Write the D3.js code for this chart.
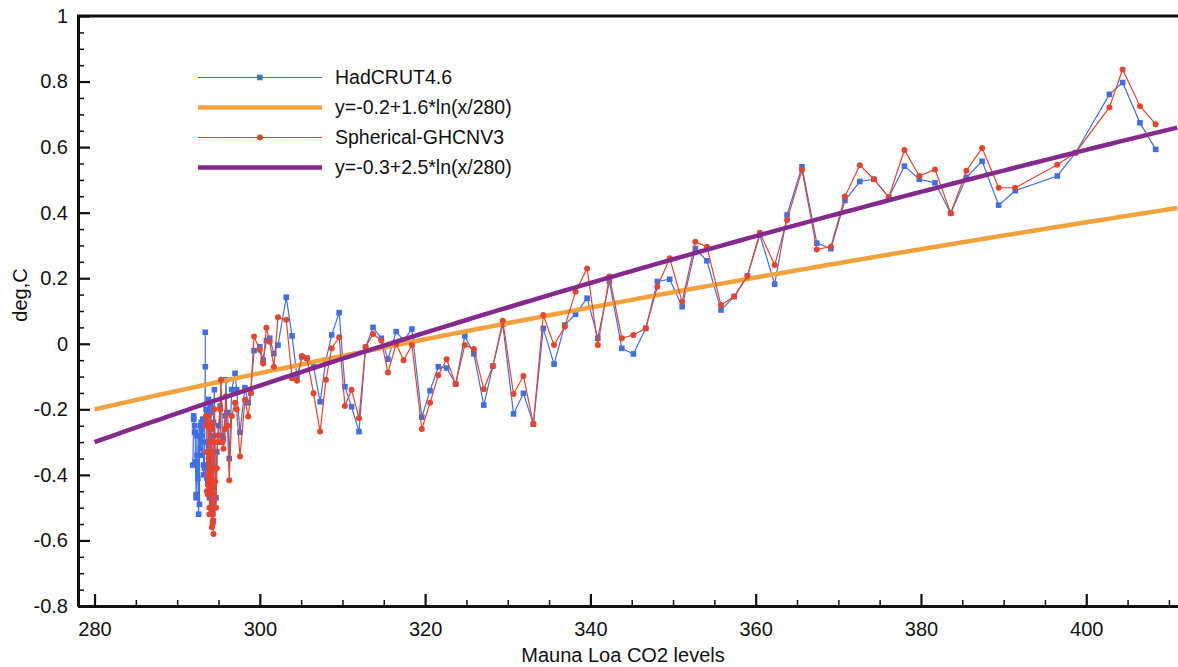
<!DOCTYPE html>
<html>
<head>
<meta charset="utf-8">
<script src="https://cdn.jsdelivr.net/npm/d3@7"></script>
<style>
body { margin: 0; background: #fff; }
svg { display: block; font-family: "Liberation Sans", Arial, sans-serif; }
</style>
</head>
<body>
<svg id="chart" width="1178" height="667"></svg>
<script>
// CO2 (x) for each year 1850..2018
const co2 = [
  291.9, 292.0, 292.0, 292.1, 292.1, 292.2, 292.2, 292.3, 292.3, 292.4,
  292.4, 292.5, 292.6, 292.6, 292.7, 292.7, 292.8, 292.8, 292.9, 292.9,
  293.0, 293.0, 293.1, 293.1, 293.2, 293.2, 293.3, 293.4, 293.4, 293.4,
  293.5, 293.5, 293.6, 293.6, 293.6, 293.7, 293.7, 293.7, 293.8, 293.8,
  293.8, 293.9, 293.9, 293.9, 293.9, 294.0, 294.0, 294.0, 294.0, 294.1,
  294.1, 294.1, 294.1, 294.2, 294.2, 294.2, 294.2, 294.3, 294.3, 294.3,
  294.3, 294.4, 294.4, 294.4, 294.4, 294.5,
  294.6, 294.7, 294.8, 294.9, 295.0, 295.2, 295.3, 295.5, 295.6, 295.8,
  295.9, 296.0, 296.1, 296.3, 296.6, 297.0, 297.2, 297.6, 298.2, 298.6,
  298.9, 299.3, 300.0, 300.4, 300.8, 301.2, 301.7, 302.2,
  303.2, 303.9, 304.5, 305.1, 305.7, 306.5, 307.3, 308.0, 308.7, 309.6,
  310.3, 311.1, 312.0, 312.8, 313.7,
  314.7, 315.5, 316.5, 317.4, 318.4, 319.6, 320.6, 321.6, 322.6, 323.7,
  324.8, 325.9, 327.1, 328.2, 329.4, 330.7, 331.9, 333.1, 334.3, 335.6,
  336.9, 338.2, 339.6, 340.9, 342.3, 343.8, 345.2, 346.7, 348.1, 349.6,
  351.1, 352.7, 354.1, 355.8, 357.4, 359.0, 360.5, 362.3, 363.8, 365.6,
  367.4, 369.1, 370.8, 372.6, 374.3, 376.1, 378.0, 379.8, 381.7, 383.6,
  385.5, 387.4, 389.4, 391.4, 396.5, 398.7, 402.8, 404.4, 406.5, 408.4
];

// HadCRUT4.6, 1850..2018
const hadcrut = [
  -0.37, -0.22, -0.23, -0.27, -0.25, -0.27, -0.36, -0.46, -0.47, -0.28,
  -0.34, -0.41, -0.52, -0.28, -0.49, -0.28, -0.25, -0.32, -0.24, -0.26,
  -0.28, -0.34, -0.23, -0.30, -0.37, -0.40, -0.38, -0.07, 0.035, -0.23,
  -0.23, -0.20, -0.21, -0.30, -0.41, -0.39, -0.37, -0.42, -0.31, -0.17,
  -0.42, -0.33, -0.46, -0.47, -0.41, -0.39, -0.19, -0.21, -0.41, -0.29,
  -0.20, -0.26, -0.40, -0.48, -0.52, -0.38, -0.28, -0.47, -0.51, -0.52,
  -0.49, -0.54, -0.44, -0.42, -0.24, -0.14,
  -0.38, -0.47, -0.33, -0.28, -0.25, -0.19, -0.30, -0.28, -0.29, -0.22,
  -0.11, -0.21, -0.21, -0.35, -0.14, -0.09, -0.14, -0.27, -0.134, -0.18,
  -0.15, -0.021, -0.009, -0.049, 0.01, 0.017, -0.03, -0.004,
  0.142, 0.024, -0.10, -0.04, -0.044, -0.07, -0.177, -0.05, 0.027, 0.095,
  -0.131, -0.192, -0.268, -0.01, 0.05,
  0.017, -0.047, 0.037, 0.01, 0.045, -0.224, -0.143, -0.07, -0.074, -0.123,
  0.024, -0.031, -0.187, -0.068, 0.06, -0.214, -0.151, -0.245, 0.047, -0.062,
  0.057, 0.09, 0.139, 0.017, 0.19, -0.014, -0.031, 0.047, 0.19, 0.197,
  0.113, 0.291, 0.253, 0.103, 0.144, 0.207, 0.332, 0.182, 0.393, 0.54,
  0.307, 0.29, 0.437, 0.495, 0.502, 0.447, 0.542, 0.502, 0.491, 0.398,
  0.508, 0.557, 0.423, 0.467, 0.512, 0.583, 0.761, 0.797, 0.674, 0.593
];

// Spherical-GHCNV3, 1880..2018 (x taken from co2 starting at 1880)
const ghcnStart = 30;
const ghcnv3 = [
  -0.25, -0.22, -0.24, -0.33, -0.45, -0.43, -0.40, -0.46, -0.35, -0.22,
  -0.45, -0.38, -0.50, -0.52, -0.45, -0.42, -0.24, -0.26, -0.44, -0.33,
  -0.25, -0.30, -0.44, -0.52, -0.56, -0.42, -0.33, -0.50, -0.54, -0.55,
  -0.52, -0.58, -0.48, -0.46, -0.30, -0.20,
  -0.42, -0.50, -0.38, -0.30, -0.28, -0.20, -0.11, -0.30, -0.32, -0.26,
  -0.16, -0.25, -0.25, -0.416, -0.22, -0.18, -0.20, -0.344, -0.171, -0.222,
  -0.15, 0.022, -0.019, -0.06, 0.049, 0.006, -0.07, 0.081,
  0.073, -0.105, -0.113, -0.037, -0.044, -0.151, -0.268, -0.11, -0.014, 0.02,
  -0.19, -0.14, -0.227, -0.01, 0.03,
  0.01, -0.088, 0.0, -0.05, -0.004, -0.26, -0.18, -0.096, -0.047, -0.123,
  -0.004, -0.016, -0.139, -0.068, 0.070, -0.153, -0.098, -0.245, 0.088, -0.004,
  0.052, 0.159, 0.23, -0.004, 0.205, 0.017, 0.027, 0.047, 0.174, 0.261,
  0.128, 0.311, 0.296, 0.118, 0.144, 0.207, 0.339, 0.24, 0.378, 0.53,
  0.288, 0.296, 0.449, 0.545, 0.502, 0.447, 0.591, 0.512, 0.532, 0.398,
  0.528, 0.597, 0.476, 0.476, 0.546, 0.583, 0.721, 0.837, 0.725, 0.670
];

// log fits y = a + b*ln(x/280)
const fitA = [-0.2, -0.3];
const fitB = [1.6, 2.5];

const xTicks = [280, 300, 320, 340, 360, 380, 400];
const yTicks = [-0.8, -0.6, -0.4, -0.2, 0, 0.2, 0.4, 0.6, 0.8, 1];
const legendLabels = ["HadCRUT4.6", "y=-0.2+1.6*ln(x/280)", "Spherical-GHCNV3", "y=-0.3+2.5*ln(x/280)"];

const blue = "#3f6fe6", red = "#e8442b", orange = "#f2a23c", purple = "#86298e";

const svg = d3.select("#chart");

const x = d3.scaleLinear().domain([278, 411.1]).range([78, 1178]);
const y = d3.scaleLinear().domain([-0.8, 1]).range([606, 16]);

const plot = svg.append("g");

// fit curves
const fitX = d3.range(280, 412, 1);
function fitLine(i) {
  return d3.line()
    .x(d => x(d))
    .y(d => y(fitA[i] + fitB[i] * Math.log(d / 280)))(fitX);
}

// HadCRUT
const had = co2.map((c, i) => [c, hadcrut[i]]);
plot.append("path")
  .attr("d", d3.line().x(d => x(d[0])).y(d => y(d[1]))(had))
  .attr("fill", "none").attr("stroke", blue).attr("stroke-width", 1.2);
plot.append("g").selectAll("rect")
  .data(had).enter()
  .append("rect")
  .attr("x", d => x(d[0]) - 2.8).attr("y", d => y(d[1]) - 2.8)
  .attr("width", 5.6).attr("height", 5.6)
  .attr("fill", blue);

plot.append("path").attr("d", fitLine(0))
  .attr("fill", "none").attr("stroke", orange).attr("stroke-width", 4.5);

// GHCN
const ghcn = ghcnv3.map((v, i) => [co2[i + ghcnStart], v]);
plot.append("path")
  .attr("d", d3.line().x(d => x(d[0])).y(d => y(d[1]))(ghcn))
  .attr("fill", "none").attr("stroke", red).attr("stroke-width", 1.2);
plot.append("g").selectAll("circle")
  .data(ghcn).enter()
  .append("circle")
  .attr("cx", d => x(d[0])).attr("cy", d => y(d[1]))
  .attr("r", 3)
  .attr("fill", red);

plot.append("path").attr("d", fitLine(1))
  .attr("fill", "none").attr("stroke", purple).attr("stroke-width", 4.5);

// axes
const xAxis = svg.append("g")
  .attr("transform", "translate(0,606)")
  .call(d3.axisBottom(x).tickValues(xTicks).tickSize(-12).tickSizeOuter(0).tickPadding(16));
svg.append("g")
  .attr("transform", "translate(0,606)")
  .call(d3.axisBottom(x).tickValues(d3.range(285, 411, 5).filter(v => v % 20 != 0)).tickSize(-6).tickSizeOuter(0).tickFormat(""));

const yAxis = svg.append("g")
  .attr("transform", "translate(78,0)")
  .call(d3.axisLeft(y).tickValues(yTicks).tickSize(-12).tickSizeOuter(0).tickPadding(10)
    .tickFormat(d => String(+d.toFixed(1))));
svg.append("g")
  .attr("transform", "translate(78,0)")
  .call(d3.axisLeft(y).tickValues(d3.range(-0.75, 1, 0.05).filter(v => Math.abs(v * 5 - Math.round(v * 5)) > 0.01)).tickSize(-6).tickSizeOuter(0).tickFormat(""));

svg.selectAll(".domain").attr("stroke", "#111").attr("stroke-width", 3);
svg.selectAll(".tick line").attr("stroke", "#111").attr("stroke-width", 1.5);
xAxis.selectAll(".tick line").attr("stroke-width", 2.2);
yAxis.selectAll(".tick line").attr("stroke-width", 2.2);
svg.selectAll(".tick text").attr("font-size", 20).attr("fill", "#111")
  .attr("font-family", "Liberation Sans, Arial, sans-serif");

// top frame
svg.append("line")
  .attr("x1", 77).attr("x2", 1178).attr("y1", 16).attr("y2", 16)
  .attr("stroke", "#111").attr("stroke-width", 3);

// axis titles
svg.append("text")
  .attr("x", 623).attr("y", 662)
  .attr("text-anchor", "middle").attr("font-size", 20).attr("fill", "#111")
  .text("Mauna Loa CO2 levels");
svg.append("text")
  .attr("transform", "translate(27,295) rotate(-90)")
  .attr("text-anchor", "middle").attr("font-size", 20).attr("fill", "#111")
  .text("deg,C");

// legend
const legend = svg.append("g");
const legendColors = [blue, orange, red, purple];
legendLabels.forEach((label, i) => {
  const ly = 77.5 + i * 30;
  const thick = i % 2 == 1;
  legend.append("line")
    .attr("x1", 198).attr("x2", 322).attr("y1", ly).attr("y2", ly)
    .attr("stroke", legendColors[i]).attr("stroke-width", thick ? 4.5 : 1.2);
  if (i == 0) {
    legend.append("rect").attr("x", 257).attr("y", ly - 2.8).attr("width", 5.6).attr("height", 5.6).attr("fill", blue);
  } else if (i == 2) {
    legend.append("circle").attr("cx", 260).attr("cy", ly).attr("r", 3).attr("fill", red);
  }
  legend.append("text")
    .attr("x", 335).attr("y", ly).attr("dy", "0.35em")
    .attr("font-size", 19.5).attr("fill", "#111")
    .text(label);
});
</script>
</body>
</html>
